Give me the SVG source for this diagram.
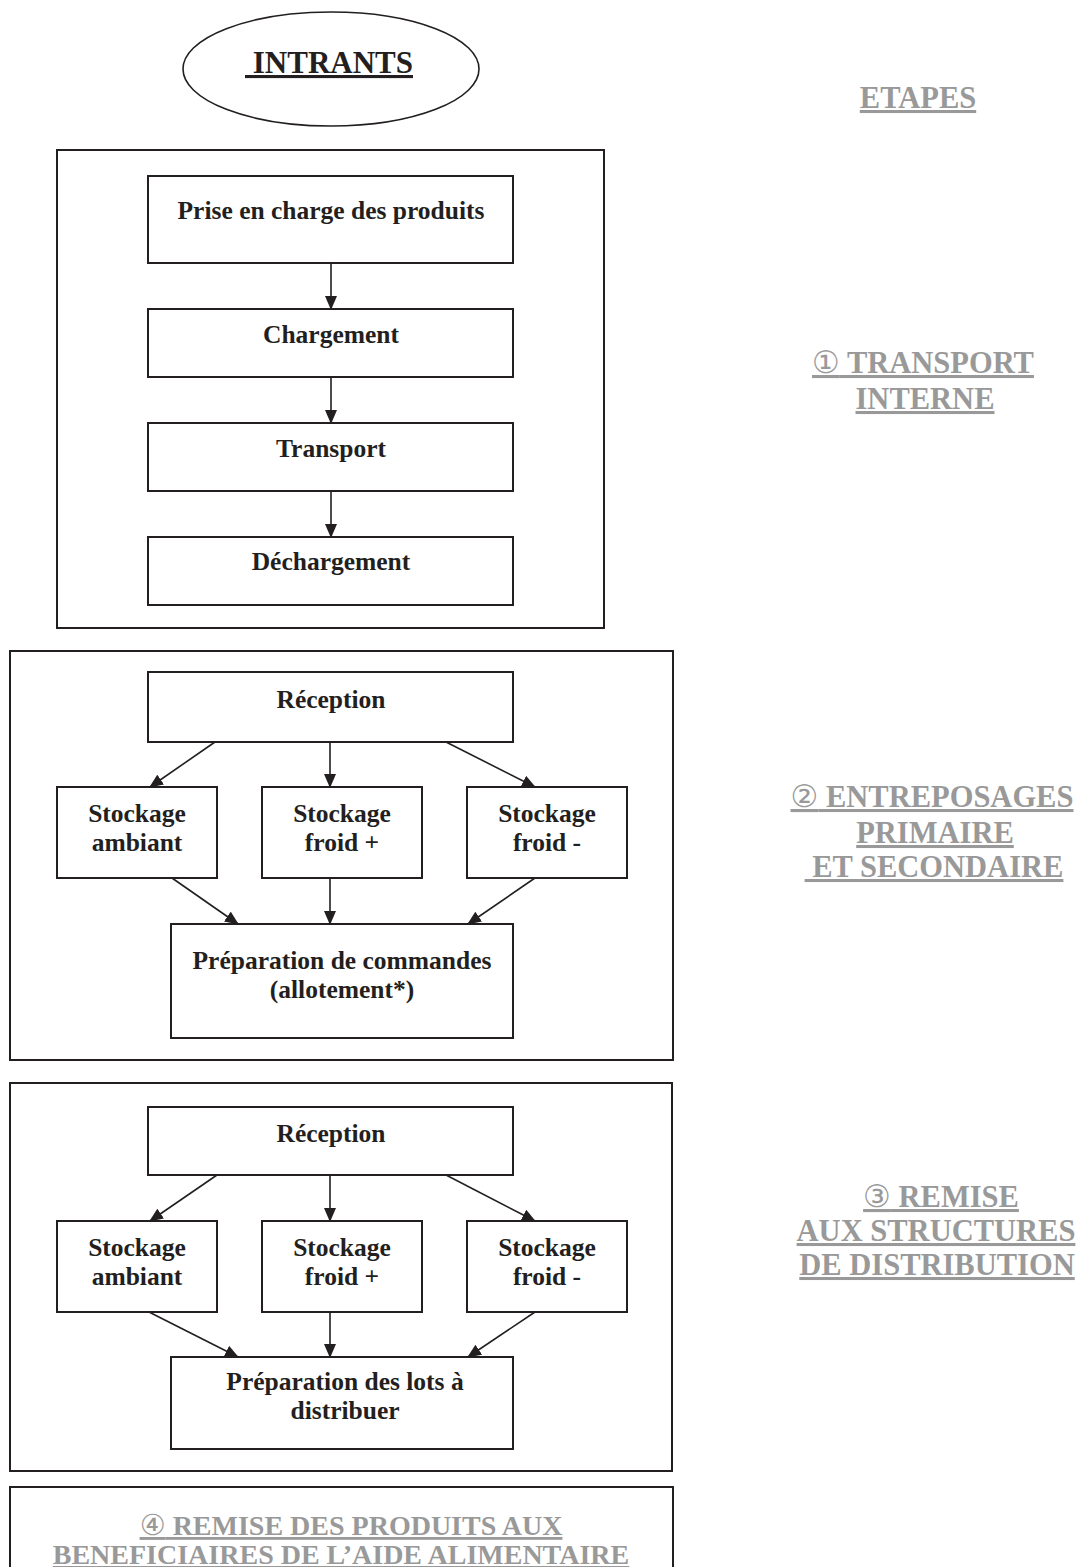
<svg xmlns="http://www.w3.org/2000/svg" width="1088" height="1567" viewBox="0 0 1088 1567">
<defs>
<style>
.bg{fill:#fff}
.box{fill:#fff;stroke:#231f20;stroke-width:2}
.frame{fill:none;stroke:#231f20;stroke-width:2}
.t{font-family:"Liberation Serif","Times New Roman",serif;font-weight:bold;font-size:25.5px;fill:#231f20;text-anchor:middle}
.g{font-family:"Liberation Serif","Times New Roman",serif;font-weight:bold;font-size:30.5px;fill:#999999;text-anchor:middle;text-decoration:underline}
.g4{font-size:28px}
.c{font-family:"DejaVu Sans",sans-serif;font-weight:normal;font-size:31px}
.ln{stroke:#231f20;stroke-width:1.6;fill:none;marker-end:url(#ah)}
</style>
<marker id="ah" markerUnits="userSpaceOnUse" markerWidth="14" markerHeight="12" refX="13" refY="6" orient="auto">
<path d="M0,0 L14,6 L0,12 Z" fill="#231f20"/>
</marker>
</defs>
<rect class="bg" x="0" y="0" width="1088" height="1567"/>

<g id="intrants">
<ellipse cx="331" cy="69" rx="148" ry="57" fill="#fff" stroke="#231f20" stroke-width="1.6"/>
<text x="329" y="73" class="t" style="font-size:31px;text-decoration:underline" xml:space="preserve"> INTRANTS</text>
</g>

<g id="etapes"><text x="918" y="108" class="g">ETAPES</text></g>

<!-- Section 1 -->
<g id="frame1"><rect class="frame" x="57" y="150" width="547" height="478"/></g>
<g id="prise"><rect class="box" x="148" y="176" width="365" height="87"/><text class="t" x="331" y="219">Prise en charge des produits</text></g>
<g id="chargement"><rect class="box" x="148" y="309" width="365" height="68"/><text class="t" x="331" y="343">Chargement</text></g>
<g id="transport"><rect class="box" x="148" y="423" width="365" height="68"/><text class="t" x="331" y="457">Transport</text></g>
<g id="dechargement"><rect class="box" x="148" y="537" width="365" height="68"/><text class="t" x="331" y="570">Déchargement</text></g>

<g id="label1">
<text class="g" x="923" y="373"><tspan class="c">①</tspan> TRANSPORT</text>
<text class="g" x="925" y="409">INTERNE</text>
</g>

<!-- Section 2 -->
<g id="frame2"><rect class="frame" x="10" y="651" width="663" height="409"/></g>
<g id="reception2"><rect class="box" x="148" y="672" width="365" height="70"/><text class="t" x="331" y="708">Réception</text></g>
<g id="ambiant2"><rect class="box" x="57" y="787" width="160" height="91"/><text class="t" x="137" y="822">Stockage</text><text class="t" x="137" y="851">ambiant</text></g>
<g id="froidplus2"><rect class="box" x="262" y="787" width="160" height="91"/><text class="t" x="342" y="822">Stockage</text><text class="t" x="342" y="851">froid +</text></g>
<g id="froidmoins2"><rect class="box" x="467" y="787" width="160" height="91"/><text class="t" x="547" y="822">Stockage</text><text class="t" x="547" y="851">froid -</text></g>
<g id="prep2"><rect class="box" x="171" y="924" width="342" height="114"/><text class="t" x="342" y="969">Préparation de commandes</text><text class="t" x="342" y="998">(allotement*)</text></g>

<g id="label2">
<text class="g" x="932" y="807"><tspan class="c">②</tspan> ENTREPOSAGES</text>
<text class="g" x="935" y="843">PRIMAIRE</text>
<text class="g" x="934" y="877" xml:space="preserve"> ET SECONDAIRE</text>
</g>

<!-- Section 3 -->
<g id="frame3"><rect class="frame" x="10" y="1083" width="662" height="388"/></g>
<g id="reception3"><rect class="box" x="148" y="1107" width="365" height="68"/><text class="t" x="331" y="1142">Réception</text></g>
<g id="ambiant3"><rect class="box" x="57" y="1221" width="160" height="91"/><text class="t" x="137" y="1256">Stockage</text><text class="t" x="137" y="1285">ambiant</text></g>
<g id="froidplus3"><rect class="box" x="262" y="1221" width="160" height="91"/><text class="t" x="342" y="1256">Stockage</text><text class="t" x="342" y="1285">froid +</text></g>
<g id="froidmoins3"><rect class="box" x="467" y="1221" width="160" height="91"/><text class="t" x="547" y="1256">Stockage</text><text class="t" x="547" y="1285">froid -</text></g>
<g id="prep3"><rect class="box" x="171" y="1357" width="342" height="92"/><text class="t" x="345" y="1390">Préparation des lots à</text><text class="t" x="345" y="1419">distribuer</text></g>

<g id="label3">
<text class="g" x="941" y="1207"><tspan class="c">③</tspan> REMISE</text>
<text class="g" x="936" y="1241">AUX STRUCTURES</text>
<text class="g" x="937" y="1275">DE DISTRIBUTION</text>
</g>

<!-- Section 4 -->
<g id="frame4">
<rect class="frame" x="10" y="1487" width="663" height="100"/>
<text class="g g4" x="351" y="1535"><tspan class="c" style="font-size:29px">④</tspan> REMISE DES PRODUITS AUX</text>
<text class="g g4" x="341" y="1564">BENEFICIAIRES DE L’AIDE ALIMENTAIRE</text>
</g>

<g id="connectors">
<line class="ln" x1="331" y1="263" x2="331" y2="309"/>
<line class="ln" x1="331" y1="377" x2="331" y2="423"/>
<line class="ln" x1="331" y1="491" x2="331" y2="537"/>

<line class="ln" x1="215" y1="742" x2="150" y2="787"/>
<line class="ln" x1="330" y1="742" x2="330" y2="787"/>
<line class="ln" x1="446" y1="742" x2="535" y2="787"/>
<line class="ln" x1="172" y1="878" x2="238" y2="924"/>
<line class="ln" x1="330" y1="878" x2="330" y2="924"/>
<line class="ln" x1="535" y1="878" x2="468" y2="924"/>

<line class="ln" x1="217" y1="1175" x2="150" y2="1221"/>
<line class="ln" x1="330" y1="1175" x2="330" y2="1221"/>
<line class="ln" x1="446" y1="1175" x2="535" y2="1221"/>
<line class="ln" x1="149" y1="1312" x2="238" y2="1357"/>
<line class="ln" x1="330" y1="1312" x2="330" y2="1357"/>
<line class="ln" x1="535" y1="1312" x2="468" y2="1357"/>
</g>
</svg>
